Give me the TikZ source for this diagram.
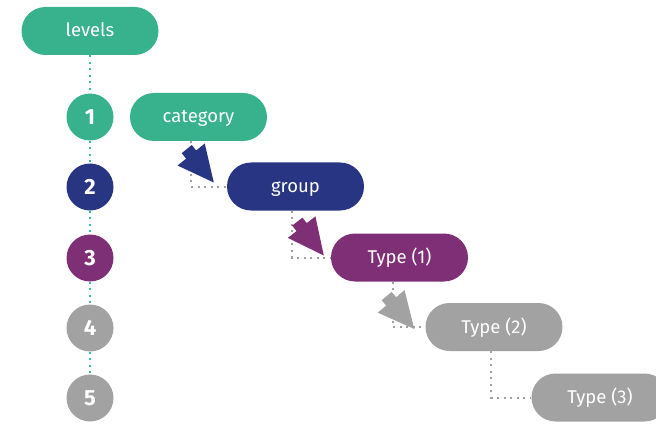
\documentclass[tikz,border=0pt]{standalone}
\usepackage{fontspec}
\setmainfont{Fira Sans}
\usetikzlibrary{calc}
\definecolor{cgreen}{HTML}{38B28C}
\definecolor{cnavy}{HTML}{283583}
\definecolor{cpurple}{HTML}{7F2F75}
\definecolor{cgray}{HTML}{A2A2A2}
\definecolor{cteal}{HTML}{3CB6B0}
\definecolor{cdot}{HTML}{A0A0A0}
\newcommand{\fatarrow}[3]{%
  \begin{scope}[shift={#1},rotate=#3]
    \fill[#2] (0,0) -- (-36,17.5) -- (-36,6.5) -- (-43,6.5) -- (-43,-6.5) -- (-36,-6.5) -- (-36,-17.5) -- cycle;
  \end{scope}}
\begin{document}
\begin{tikzpicture}[x=1pt,y=-1pt,
  pill/.style={fill=#1,text=white,rounded corners=24pt,minimum width=137pt,minimum height=48pt,inner sep=0pt,text height=13pt,text depth=1pt,font=\fontsize{18.5}{20}\selectfont},
  lvl/.style={circle,fill=#1,text=white,minimum size=47pt,inner sep=0pt,font=\fontsize{22}{24}\selectfont\bfseries},
  tealdots/.style={draw=cteal,line width=2pt,dash pattern=on 2pt off 4.5pt},
  graydots/.style={draw=cdot,line width=2pt,dash pattern=on 2pt off 4.5pt}]
\useasboundingbox (0,0) rectangle (656,425);
\begin{scope}
\clip (0,0) rectangle (656,425);
% level column
\node[pill=cgreen] (levels) at (90,31) {levels};
\node[lvl=cgreen] (l1) at (90,117) {1};
\node[lvl=cnavy] (l2) at (90,187) {2};
\node[lvl=cpurple] (l3) at (90,258) {3};
\node[lvl=cgray] (l4) at (90,328) {4};
\node[lvl=cgray] (l5) at (90,398) {5};
\draw[tealdots] (levels.south) -- (l1.north);
\draw[tealdots] (l1.south) -- (l2.north);
\draw[tealdots] (l2.south) -- (l3.north);
\draw[tealdots] (l3.south) -- (l4.north);
\draw[tealdots] (l4.south) -- (l5.north);
% hierarchy
\node[pill=cgreen] (cat) at (198.5,117) {category};
\node[pill=cnavy] (grp) at (295.5,186.5) {group};
\node[pill=cpurple] (t1) at (399.5,257.5) {Type (1)};
\node[pill=cgray] (t2) at (494,327) {Type (2)};
\node[pill=cgray] (t3) at (600,397.5) {Type (3)};
\draw[graydots] ($(cat.south west)+(61,0)$) |- (grp.west);
\draw[graydots] ($(grp.south west)+(65,0)$) |- (t1.west);
\draw[graydots] ($(t1.south west)+(62,0)$) |- (t2.west);
\draw[graydots] ($(t2.south west)+(66,0)$) |- (t3.west);
\fatarrow{($(grp.west)+(-13,-4)$)}{cnavy}{-51}
\fatarrow{($(t1.west)+(-7,-2)$)}{cpurple}{-52}
\fatarrow{($(t2.west)+(-11,2)$)}{cgray}{-50}
\end{scope}
\end{tikzpicture}
\end{document}
